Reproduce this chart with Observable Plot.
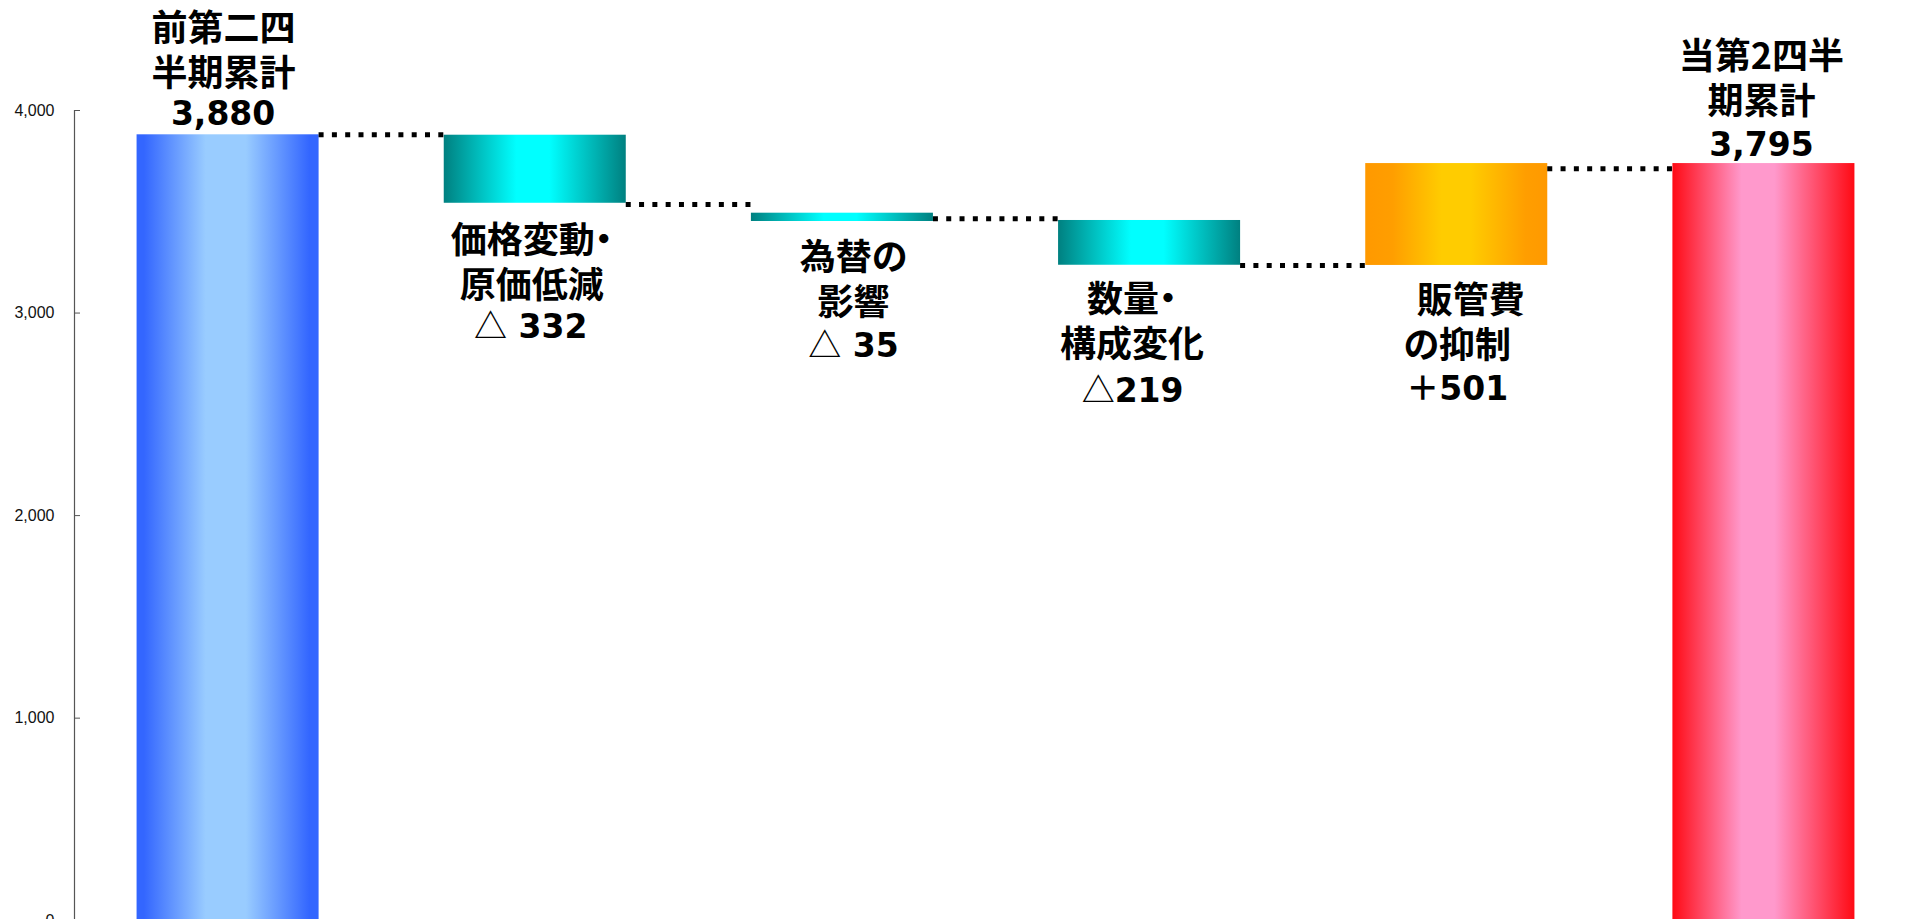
<!DOCTYPE html>
<html><head><meta charset="utf-8">
<script src="https://cdn.jsdelivr.net/npm/d3@7"></script>
<script src="https://cdn.jsdelivr.net/npm/@observablehq/plot@0.6"></script>
<style>
html,body{margin:0;padding:0;background:#fff;overflow:hidden;}
#chart svg{display:block;}
#chart svg text{font-feature-settings:"palt";}
</style></head><body><div id="chart"></div>
<script>
// ---- data ----
const categories = ["前第二四半期累計", "価格変動・原価低減", "為替の影響", "数量・構成変化", "販管費の抑制", "当第2四半期累計"];
const nameLines = ["前第二四\n半期累計", "価格変動・\n原価低減", "為替の\n影響", "数量・\n構成変化", "\u2002\u2005販管費\nの抑制", "当第2四半\n期累計"];
const valueLabels = ["3,880", "△ 332", "△ 35", "△219", "＋501", "3,795"];
const barLow = [0, 3542, 3452, 3236, 3235, 0];
const barHigh = [3880, 3878, 3493, 3457, 3738, 3738];
const barKind = ["prev", "down", "down", "down", "up", "curr"];
const connectorFrom = [0, 1, 2, 3, 4];
const connectorLevel = [3880, 3536, 3465, 3235, 3713];
const yTicks = [0, 1000, 2000, 3000, 4000];

// ---- layout / style ----
const HW = 0.2963; // half bar width in category units
const labelAbove = [true, false, false, false, false, true];
const nameDx = [-4.5, -3.5, 11, -17.5, 0.5, -2.5];
const valueDx = [-5, -4.5, 11, -17, 0.5, -2.5];
const nameDy = [-86, 58, 57, 55, 56, -86];
const valueDy = [-20, 124, 125, 126, 124, -18];
const fills = {prev: "url(#gBlue)", down: "url(#gCyan)", up: "url(#gOrange)", curr: "url(#gRed)"};

const rows = categories.map((c, i) => ({i, c, low: barLow[i], high: barHigh[i], kind: barKind[i], name: nameLines[i], value: valueLabels[i]}));
const links = connectorFrom.map((f, j) => ({x1: f + HW, x2: f + 1 - HW, y: connectorLevel[j]}));
const xStart = -0.5;

const marks = [];
for (const k of Object.keys(fills)) {
  marks.push(Plot.rect(rows.filter(d => d.kind === k), {x1: d => d.i - HW, x2: d => d.i + HW, y1: "low", y2: "high", fill: fills[k]}));
}
marks.push(Plot.ruleY(links, {y: "y", x1: "x1", x2: "x2", stroke: "#000", strokeWidth: 5, strokeDasharray: "5,8.3"}));
rows.forEach((r, i) => {
  const yv = labelAbove[i] ? r.high : r.low;
  marks.push(Plot.text([r], {x: "i", y: () => yv, text: "name", dx: nameDx[i], dy: nameDy[i],
    fontFamily: "'Noto Sans CJK JP', sans-serif", fontWeight: 700, fontSize: 36, lineHeight: 1.25,
    lineAnchor: "middle", fill: "#000"}));
  marks.push(Plot.text([r], {x: "i", y: () => yv, text: "value", dx: valueDx[i], dy: valueDy[i],
    fontFamily: "'DejaVu Sans', 'Noto Sans CJK JP', sans-serif", fontWeight: 700, fontSize: 33,
    lineAnchor: "middle", fill: "#000"}));
});
marks.push(Plot.ruleX([xStart], {y1: d3.max(yTicks), y2: d3.min(yTicks), stroke: "#555", strokeWidth: 1.2}));
marks.push(Plot.axisY(yTicks, {tickSize: -6, tickPadding: 26, tickFormat: d3.format(","),
  stroke: "#555", fill: "#111", fontSize: 16, fontFamily: "'Liberation Sans', Arial, sans-serif"}));

const chart = Plot.plot({
  width: 1910, height: 921,
  marginLeft: 74, marginRight: 0, marginTop: 110, marginBottom: 0,
  x: {domain: [-0.5, 5.5], range: [74, 1917], axis: null},
  y: {domain: [0, 4000], range: [920.2, 110]},
  style: {background: "#fff", overflow: "visible"},
  marks
});

// gradients
const svg = d3.select(chart);
const defs = svg.insert("defs", ":first-child");
const grads = {
  gBlue: [[0, "#3366FF"], [0.04, "#3366FF"], [0.38, "#99CCFF"], [0.6, "#99CCFF"], [0.95, "#3366FF"], [1, "#3366FF"]],
  gCyan: [[0, "#008080"], [0.4, "#00FFFF"], [0.58, "#00FFFF"], [1, "#008080"]],
  gOrange: [[0, "#FF9900"], [0.15, "#FF9E00"], [0.42, "#FFCC00"], [0.58, "#FFCC00"], [0.88, "#FF9E00"], [1, "#FF9900"]],
  gRed: [[0, "#FF0A14"], [0.38, "#FF99CC"], [0.56, "#FF99CC"], [1, "#FF0A14"]]
};
for (const [id, stops] of Object.entries(grads)) {
  const g = defs.append("linearGradient").attr("id", id).attr("x1", 0).attr("x2", 1).attr("y1", 0).attr("y2", 0);
  for (const [o, c] of stops) g.append("stop").attr("offset", o).attr("stop-color", c);
}
// render the triangle sign with the CJK font (larger, heavier glyph)
svg.selectAll("text").each(function () {
  const t = this.textContent;
  if (this.childElementCount === 0 && t.startsWith("△")) {
    const el = d3.select(this);
    el.text(null);
    el.append("tspan").attr("font-family", "'Noto Sans CJK JP'").attr("font-weight", 500).text("△");
    el.append("tspan").text(t.slice(1));
  }
});
document.getElementById("chart").append(chart);
</script>
</body></html>
